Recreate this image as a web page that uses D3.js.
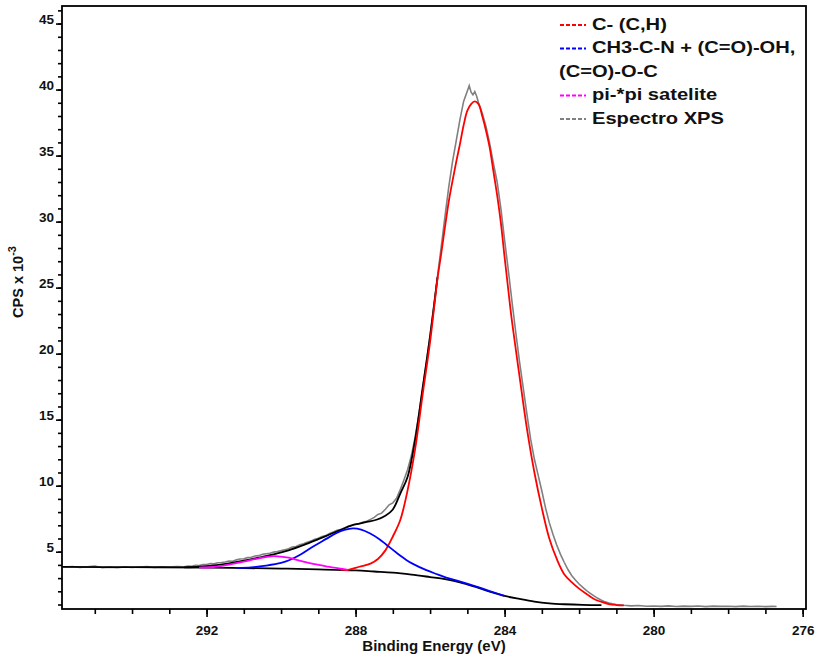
<!DOCTYPE html>
<html>
<head>
<meta charset="utf-8">
<title>XPS C1s</title>
<script src="https://d3js.org/d3.v7.min.js"></script>
<style>
  body { margin: 0; background: #fff; }
  text { font-family: "Liberation Sans", Arial, sans-serif; font-weight: bold; fill: #111; }
</style>
</head>
<body>
<script>
// tick labels
const energyTicks = [292, 288, 284, 280, 276];
const cpsTicks = [5, 10, 15, 20, 25, 30, 35, 40, 45];

// legend entries
const legendLabels = ["C- (C,H)", "CH3-C-N + (C=O)-OH,", "(C=O)-O-C", "pi-*pi satelite", "Espectro XPS"];
const legendColors = ["#ff0000", "#0000ff", null, "#ff00ff", "#808080"];

// measured spectrum, [binding energy, CPS x 10^-3]
const spectrum = [
  [295.9,3.88],[295.8,3.84],[295.6,3.88],[295.4,3.80],[295.2,3.86],[295.0,3.91],[294.8,3.79],[294.6,3.83],
  [294.4,3.78],[294.2,3.85],[294.0,3.80],[293.8,3.84],[293.6,3.87],[293.4,3.80],[293.2,3.85],[293.0,3.83],
  [292.8,3.88],[292.6,3.86],[292.5,3.92],[292.4,3.90],[292.3,3.97],[292.2,3.95],[292.1,4.03],[292.0,4.02],
  [291.9,4.10],[291.8,4.08],[291.7,4.16],[291.6,4.18],[291.5,4.22],[291.4,4.30],[291.3,4.28],[291.2,4.38],
  [291.1,4.45],[291.0,4.47],[290.9,4.55],[290.8,4.58],[290.7,4.68],[290.6,4.70],[290.5,4.80],[290.4,4.84],
  [290.3,4.88],[290.2,4.97],[290.1,5.02],[290.0,5.08],[289.9,5.15],[289.8,5.22],[289.7,5.35],[289.6,5.40],
  [289.5,5.52],[289.4,5.60],[289.3,5.72],[289.2,5.80],[289.1,5.95],[289.0,6.02],[288.9,6.15],[288.8,6.22],
  [288.7,6.38],[288.6,6.50],[288.5,6.62],[288.4,6.68],[288.3,6.80],[288.2,6.92],[288.1,7.00],[288.0,7.08],
  [287.9,7.12],[287.8,7.25],[287.7,7.30],[287.6,7.45],[287.5,7.60],[287.4,7.82],[287.3,7.92],[287.2,8.22],
  [287.1,8.55],[287.0,8.70],[286.9,9.05],[286.8,9.70],[286.7,10.45],[286.6,11.25],[286.5,12.30],[286.4,13.70],
  [286.3,15.40],[286.2,17.30],[286.1,19.30],[286.0,21.40],[285.9,23.60],[285.8,25.90],[285.7,28.10],[285.6,30.40],
  [285.5,32.60],[285.4,34.50],[285.3,36.10],[285.2,37.70],[285.1,39.10],[285.0,39.90],[284.95,40.30],[284.9,39.80],
  [284.85,39.60],[284.8,39.85],[284.75,39.50],[284.7,39.00],[284.6,38.20],[284.5,37.20],[284.4,35.90],[284.3,34.40],
  [284.2,33.00],[284.1,31.00],[284.0,28.60],[283.9,26.30],[283.8,23.90],[283.7,21.60],[283.6,19.40],[283.5,17.40],
  [283.4,15.40],[283.3,13.50],[283.2,12.00],[283.1,10.80],[283.0,9.60],[282.9,8.30],[282.8,7.20],[282.7,6.30],
  [282.6,5.50],[282.5,4.80],[282.4,4.20],[282.3,3.65],[282.2,3.20],[282.1,2.85],[282.0,2.55],[281.9,2.30],
  [281.8,2.05],[281.7,1.85],[281.6,1.65],[281.5,1.47],[281.4,1.32],[281.3,1.20],[281.2,1.12],[281.1,1.05],
  [281.0,1.00],[280.8,0.94],[280.6,0.90],[280.4,0.92],[280.2,0.87],[280.0,0.89],[279.8,0.86],[279.6,0.90],
  [279.4,0.85],[279.2,0.88],[279.0,0.86],[278.8,0.89],[278.6,0.84],[278.4,0.88],[278.2,0.86],[278.0,0.87],
  [277.8,0.84],[277.6,0.88],[277.4,0.85],[277.2,0.87],[277.0,0.84],[276.8,0.86],[276.7,0.85]
];

// Shirley background
const background = [
  [295.9,3.85],[294.0,3.83],[292.0,3.80],[291.0,3.76],[290.0,3.72],[289.0,3.66],[288.0,3.58],[287.5,3.50],
  [287.0,3.42],[286.5,3.27],[286.0,3.08],[285.6,2.92],[285.2,2.68],[284.8,2.35],[284.4,1.98],[284.0,1.65],
  [283.6,1.42],[283.2,1.22],[282.8,1.09],[282.4,1.02],[281.9,0.97],[281.4,0.95]
];

// fit envelope (hidden under the C-C peak above ~26)
const envelope = [
  [292.6,3.82],[292.2,3.86],[291.8,3.96],[291.4,4.12],[291.0,4.32],[290.6,4.55],[290.2,4.80],[289.8,5.10],
  [289.4,5.50],[289.0,5.95],[288.7,6.30],[288.4,6.65],[288.1,7.00],[287.9,7.12],[287.7,7.25],[287.44,7.42],
  [287.2,7.72],[287.0,8.20],[286.8,9.40],[286.6,10.70],[286.4,13.50],[286.2,17.40],[286.0,21.30],[285.8,25.80]
];

// C-C / C-H component
const peakCC = [
  [288.4,3.64],[288.2,3.62],[287.9,3.86],[287.6,4.10],[287.4,4.45],[287.2,5.10],[287.0,6.15],[286.8,7.40],
  [286.6,9.70],[286.4,12.80],[286.2,16.90],[286.0,20.90],[285.9,23.30],[285.8,25.70],[285.7,27.60],[285.6,29.60],
  [285.5,31.50],[285.4,33.05],[285.3,34.50],[285.2,35.85],[285.1,37.30],[285.0,38.40],[284.9,38.90],[284.8,39.10],
  [284.7,38.90],[284.6,38.00],[284.5,36.90],[284.4,35.60],[284.3,33.80],[284.2,32.00],[284.1,29.90],[284.0,27.30],
  [283.9,24.80],[283.8,22.40],[283.6,18.30],[283.4,14.30],[283.2,11.00],[283.0,8.30],[282.8,6.00],[282.6,4.45],
  [282.4,3.30],[282.2,2.70],[282.0,2.20],[281.8,1.80],[281.6,1.42],[281.4,1.20],[281.2,1.03],[281.0,0.96],[280.8,0.93]
];

// CH3-C-N + (C=O)-OH, (C=O)-O-C component
const peakCO = [
  [291.2,3.77],[290.8,3.82],[290.4,3.95],[290.0,4.15],[289.77,4.37],[289.5,4.75],[289.15,5.38],[288.8,5.95],
  [288.52,6.40],[288.3,6.65],[288.07,6.77],[287.85,6.68],[287.62,6.40],[287.36,5.95],[287.18,5.55],[286.9,4.92],
  [286.64,4.38],[286.46,4.08],[286.1,3.60],[285.8,3.28],[285.57,3.04],[285.21,2.76],[284.8,2.40],[284.4,2.02],
  [284.0,1.66]
];

// pi-pi* satellite
const peakPi = [
  [292.2,3.80],[291.8,3.84],[291.4,4.02],[291.0,4.24],[290.6,4.50],[290.2,4.67],[289.8,4.55],[289.48,4.30],
  [289.2,4.12],[288.95,3.99],[288.7,3.85],[288.4,3.72],[288.2,3.62]
];

const margin = {top: 6, right: 9, bottom: 47, left: 62},
      width = 815 - margin.left - margin.right,
      height = 656 - margin.top - margin.bottom;

const svg = d3.select("body").append("svg")
    .attr("width", 815)
    .attr("height", 656);

const g = svg.append("g")
    .attr("transform", `translate(${margin.left},${margin.top})`);

const x = d3.scaleLinear().domain([295.88, 275.91]).range([0, width]);
const y = d3.scaleLinear().domain([0.66, 46.33]).range([height, 0]);

g.append("clipPath").attr("id", "clip")
  .append("rect").attr("width", width).attr("height", height);

// x axis: minor then major ticks
g.append("g")
    .attr("transform", `translate(0,${height})`)
    .call(d3.axisBottom(x).tickValues(d3.range(276, 296)).tickSize(5).tickFormat(""))
    .call(a => a.select(".domain").remove());
g.append("g")
    .attr("transform", `translate(0,${height})`)
    .call(d3.axisBottom(x).tickValues(energyTicks).tickSize(8).tickPadding(8).tickFormat(d3.format("d")))
    .call(a => a.select(".domain").remove())
    .call(a => a.selectAll("text").attr("font-size", 13.5).attr("font-family", null));

// y axis
g.append("g")
    .call(d3.axisLeft(y).tickValues(d3.range(1, 47)).tickSize(4).tickFormat(""))
    .call(a => a.select(".domain").remove());
g.append("g")
    .call(d3.axisLeft(y).tickValues(cpsTicks).tickSize(6).tickPadding(2))
    .call(a => a.select(".domain").remove())
    .call(a => a.selectAll("text").attr("dy", "0").attr("font-size", 13.5).attr("font-family", null));

g.selectAll(".tick line").attr("stroke", "#000").attr("stroke-width", 1.6);

// frame
g.append("rect")
    .attr("width", width).attr("height", height)
    .attr("fill", "none").attr("stroke", "#000").attr("stroke-width", 1.8);

const line = d3.line().x(d => x(d[0])).y(d => y(d[1]));
const smooth = d3.line().x(d => x(d[0])).y(d => y(d[1])).curve(d3.curveCatmullRom);

const plot = g.append("g").attr("clip-path", "url(#clip)");

plot.append("path").datum(spectrum)
    .attr("fill", "none").attr("stroke", "#808080").attr("stroke-width", 1.6).attr("d", line);
plot.append("path").datum(background)
    .attr("fill", "none").attr("stroke", "#000").attr("stroke-width", 1.8).attr("d", smooth);
plot.append("path").datum(envelope)
    .attr("fill", "none").attr("stroke", "#000").attr("stroke-width", 1.8).attr("d", smooth);
plot.append("path").datum(peakCC)
    .attr("fill", "none").attr("stroke", "#ff0000").attr("stroke-width", 1.8).attr("d", smooth);
plot.append("path").datum(peakCO)
    .attr("fill", "none").attr("stroke", "#0000ff").attr("stroke-width", 1.8).attr("d", smooth);
plot.append("path").datum(peakPi)
    .attr("fill", "none").attr("stroke", "#ff00ff").attr("stroke-width", 1.8).attr("d", smooth);

// axis titles
svg.append("text")
    .attr("x", 434).attr("y", 651)
    .attr("text-anchor", "middle").attr("font-size", 15)
    .text("Binding Energy (eV)");

const yl = svg.append("text")
    .attr("transform", "translate(23,282) rotate(-90)")
    .attr("text-anchor", "middle").attr("font-size", 14.5);
yl.append("tspan").text("CPS x 10");
yl.append("tspan").attr("dy", -7).attr("font-size", 11).text("-3");

// legend
const legend = svg.append("g").attr("transform", "translate(559,0)");
legendLabels.forEach((label, i) => {
  const by = 30 + i * 23.5;
  const col = legendColors[i];
  if (col) {
    legend.append("line")
        .attr("x1", 1).attr("x2", 27).attr("y1", by - 5).attr("y2", by - 5)
        .attr("stroke", col).attr("stroke-width", 2).attr("stroke-dasharray", "4,2");
  }
  legend.append("text")
      .attr("x", col ? 33 : 0).attr("y", by)
      .attr("font-size", 16.5)
      .attr("transform", `translate(${col ? 33 : 0},0) scale(1.22,1) translate(${col ? -33 : 0},0)`)
      .text(label);
});
</script>
</body>
</html>
